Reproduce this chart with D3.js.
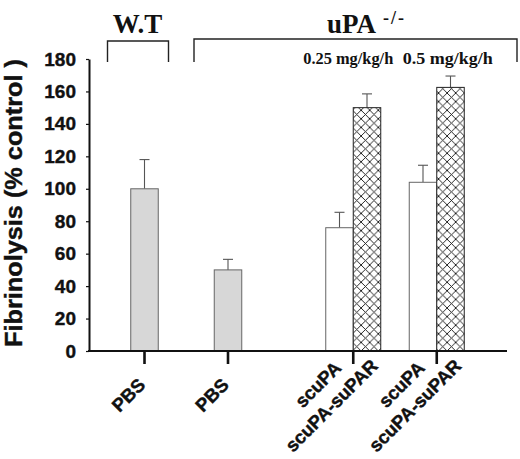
<!DOCTYPE html>
<html>
<head>
<meta charset="utf-8">
<script src="https://cdn.jsdelivr.net/npm/d3@7"></script>
<style>
  body { margin: 0; background: #fff; }
  svg { display: block; }
  .sans { font-family: "Liberation Sans", Arial, sans-serif; font-weight: bold; stroke: #111; stroke-width: 0.4px; }
  .serif { font-family: "Liberation Serif", "Times New Roman", serif; font-weight: bold; }
</style>
</head>
<body>
<svg id="chart" width="520" height="459"></svg>
<script>
// data
const groupPos = [0, 1, 2.5, 3.5];           // group slots along x
const barLabels = ["PBS", "PBS", "scuPA", "scuPA-suPAR", "scuPA", "scuPA-suPAR"];
const barGroup = [0, 1, 2, 2, 3, 3];
const barSide = [0, 0, -1, 1, -1, 1];          // 0 = centred, -1 left, 1 right of slot
const barFill = ["gray", "gray", "open", "hatch", "open", "hatch"];
const barValues = [100, 50, 76, 150, 104, 162.5];
const barErrors = [18, 6.5, 9.5, 8.5, 10.5, 7];
const yTicks = [0, 20, 40, 60, 80, 100, 120, 140, 160, 180];
const doseLabels = ["0.25 mg/kg/h", "0.5 mg/kg/h"];
const doseGroups = [2, 3];

const svg = d3.select("#chart");

const x = d3.scaleLinear().domain([0, 1]).range([144.5, 228]);
const y = d3.scaleLinear().domain([0, 180]).range([351, 59]);
const barW = 27.5;

const barX = (i) => {
  const c = x(groupPos[barGroup[i]]);
  if (barSide[i] === 0) return c - barW / 2;
  return barSide[i] < 0 ? c - barW : c;
};

// crosshatch pattern
const defs = svg.append("defs");
defs.append("pattern")
  .attr("id", "hatch")
  .attr("patternUnits", "userSpaceOnUse")
  .attr("width", 8.6)
  .attr("height", 8.6)
  .attr("x", 352.5)
  .attr("y", 351)
  .call((p) => {
    p.append("rect").attr("width", 8.6).attr("height", 8.6).attr("fill", "#fff");
    p.append("path")
      .attr("d", "M0,0 L8.6,8.6 M8.6,0 L0,8.6")
      .attr("stroke", "#111")
      .attr("stroke-width", 0.9);
  });

const fillFor = (f) => (f === "gray" ? "#d7d7d7" : f === "hatch" ? "url(#hatch)" : "#fff");

// error bars (upward only)
const err = svg.append("g").attr("stroke", "#555").attr("stroke-width", 1.1);
barValues.forEach((v, i) => {
  const cx = barX(i) + barW / 2;
  err.append("line")
    .attr("x1", cx).attr("x2", cx)
    .attr("y1", y(v)).attr("y2", y(v + barErrors[i]));
  err.append("line")
    .attr("x1", cx - 5).attr("x2", cx + 5)
    .attr("y1", y(v + barErrors[i])).attr("y2", y(v + barErrors[i]));
});

// bars
svg.append("g")
  .selectAll("rect")
  .data(barValues)
  .join("rect")
  .attr("x", (d, i) => barX(i))
  .attr("y", (d) => y(d))
  .attr("width", barW)
  .attr("height", (d) => y(0) - y(d))
  .attr("fill", (d, i) => fillFor(barFill[i]))
  .attr("stroke", (d, i) => (barFill[i] === "hatch" ? "#222" : "#666"))
  .attr("stroke-width", 1);

// y axis
const yAxis = svg.append("g")
  .attr("transform", "translate(89,0)")
  .call(d3.axisLeft(y).tickValues(yTicks).tickSize(3).tickPadding(10).tickSizeOuter(0));
yAxis.select(".domain").attr("stroke", "#111").attr("stroke-width", 2);
yAxis.selectAll(".tick line").attr("stroke", "#111").attr("stroke-width", 1.2);
yAxis.selectAll(".tick text")
  .attr("class", "sans")
  .attr("font-size", 19)
  .attr("fill", "#111");

// x axis line
svg.append("line")
  .attr("x1", 88).attr("x2", 507)
  .attr("y1", y(0)).attr("y2", y(0))
  .attr("stroke", "#111").attr("stroke-width", 2);

// x ticks at group slots
svg.append("g")
  .selectAll("line")
  .data(groupPos)
  .join("line")
  .attr("x1", (d) => x(d)).attr("x2", (d) => x(d))
  .attr("y1", y(0)).attr("y2", y(0) + 13)
  .attr("stroke", "#111").attr("stroke-width", 2.6);

// rotated bar labels
const labelDx = { "PBS": 2, "scuPA": 3, "scuPA-suPAR": 12 };
const labelY = { "PBS": 386, "scuPA": 369, "scuPA-suPAR": 367 };
svg.append("g")
  .selectAll("text")
  .data(barLabels)
  .join("text")
  .attr("class", "sans")
  .attr("font-size", 18.5)
  .attr("fill", "#111")
  .attr("text-anchor", "end")
  .attr("transform", (d, i) =>
    `translate(${barX(i) + barW / 2 + labelDx[d]},${labelY[d]}) rotate(-45)`)
  .text((d) => d);

// y axis title
svg.append("text")
  .attr("class", "sans")
  .attr("font-size", 24)
  .attr("fill", "#111")
  .attr("text-anchor", "middle")
  .attr("textLength", 288)
  .attr("lengthAdjust", "spacingAndGlyphs")
  .attr("transform", "translate(22,203) rotate(-90)")
  .text("Fibrinolysis (% control )");

// group brackets
const yTop = y(180);
const br = svg.append("g").attr("fill", "none").attr("stroke", "#222").attr("stroke-width", 1.4);
br.append("path")
  .attr("d", `M${x(0) - 37},${yTop + 3} V${yTop - 18} H${x(0) + 24} V${yTop + 3}`);
br.append("path")
  .attr("d", `M${x(1) - 34},${yTop + 3} V${yTop - 20} H517 V${yTop + 3}`);

svg.append("text")
  .attr("class", "serif")
  .attr("font-size", 27)
  .attr("fill", "#111")
  .attr("text-anchor", "middle")
  .attr("x", x(0) - 7)
  .attr("y", 33)
  .text("W.T");

const upa = svg.append("text")
  .attr("class", "serif")
  .attr("fill", "#111")
  .attr("x", 327)
  .attr("y", 33);
upa.append("tspan").attr("font-size", 27).text("uPA");
upa.append("tspan")
  .attr("font-size", 18)
  .attr("dx", 7)
  .attr("dy", -9)
  .attr("letter-spacing", 2)
  .text("-/-");

// dose labels over the paired bars
const doseDx = [-5, 11];
svg.append("g")
  .selectAll("text")
  .data(doseLabels)
  .join("text")
  .attr("class", "serif")
  .attr("font-size", 16)
  .attr("fill", "#111")
  .attr("text-anchor", "middle")
  .attr("x", (d, i) => x(groupPos[doseGroups[i]]) + doseDx[i])
  .attr("y", 64)
  .attr("textLength", 90)
  .attr("lengthAdjust", "spacingAndGlyphs")
  .text((d) => d);
</script>
</body>
</html>
